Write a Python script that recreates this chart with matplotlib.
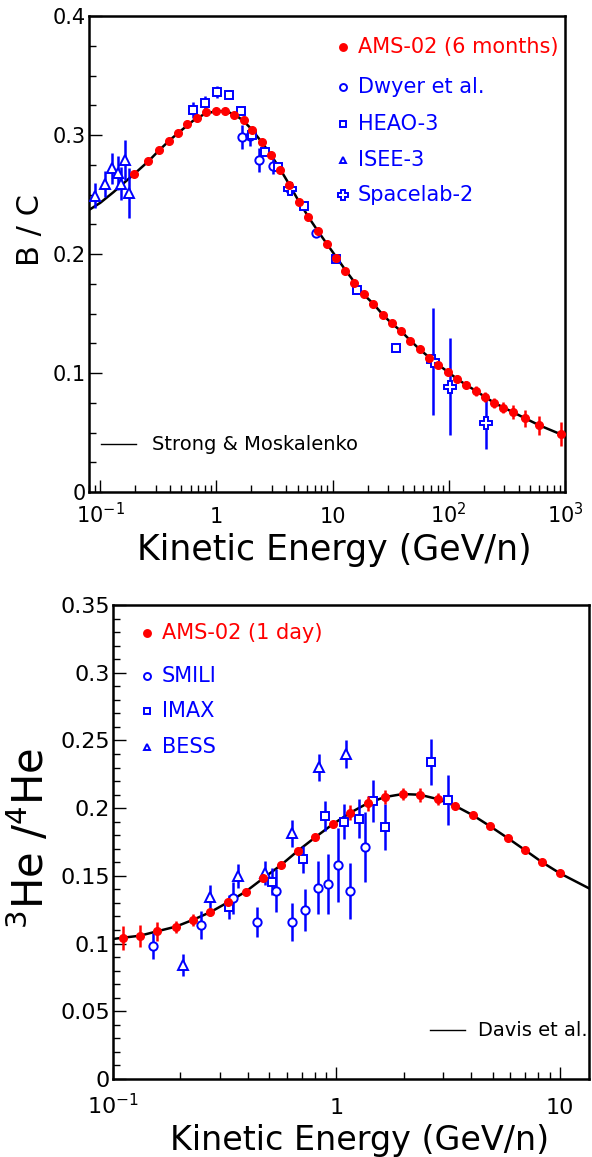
import numpy as np
import matplotlib
matplotlib.use("Agg")
from matplotlib import pyplot as plt
from matplotlib.ticker import FixedLocator, FixedFormatter, MultipleLocator, NullFormatter

plt.rcParams['font.family'] = ['DejaVu Sans']
plt.rcParams['mathtext.default'] = 'regular'

# ---------------- B/C ----------------
ams_bc_e = [0.196, 0.257, 0.321, 0.390, 0.470, 0.562, 0.679, 0.818, 0.986, 1.18, 1.43,
            1.71, 2.04, 2.46, 2.95, 3.55, 4.25, 5.11, 6.18, 7.45, 8.92, 10.7, 12.9,
            15.4, 18.6, 22.4, 27.1, 32.4, 39.0, 46.7, 56.3, 67.9, 81.3, 98.0, 118,
            141, 171, 204, 246, 295, 358, 452, 603, 929]
ams_bc = [0.267, 0.278, 0.287, 0.295, 0.302, 0.309, 0.314, 0.319, 0.320, 0.320, 0.317,
          0.313, 0.304, 0.294, 0.283, 0.271, 0.258, 0.244, 0.231, 0.219, 0.208, 0.197,
          0.186, 0.176, 0.166, 0.158, 0.149, 0.142, 0.135, 0.127, 0.120, 0.113, 0.107,
          0.101, 0.095, 0.090, 0.085, 0.080, 0.075, 0.071, 0.067, 0.062, 0.056, 0.049]
ams_bc_err = [0]*26 + [0.001, 0.001, 0.001, 0.002, 0.002, 0.002, 0.002, 0.003, 0.003,
                       0.003, 0.004, 0.004, 0.004, 0.005, 0.006, 0.007, 0.008, 0.010]

dwyer_e = [1.67, 1.94, 2.33, 3.09, 4.31, 7.26]
dwyer = [0.298, 0.299, 0.279, 0.274, 0.255, 0.218]
dwyer_err = [0.010, 0.008, 0.010, 0.007, 0.005, 0.004]

heao_e = [0.627, 0.80, 1.006, 1.27, 1.62, 2.04, 2.61, 3.37, 5.63, 10.6, 16.2, 34.8]
heao = [0.321, 0.327, 0.336, 0.334, 0.320, 0.300, 0.286, 0.273, 0.240, 0.196, 0.170, 0.121]
heao_err = [0.007, 0.006, 0.005, 0.004, 0.003, 0.003, 0.003, 0.003, 0.003, 0.003, 0.003, 0.003]

isee_e = [0.090, 0.110, 0.125, 0.141, 0.151, 0.164, 0.178]
isee = [0.249, 0.259, 0.272, 0.268, 0.259, 0.279, 0.251]
isee_err = [0.0105, 0.011, 0.013, 0.014, 0.014, 0.017, 0.021]

spacelab_e = [4.31, 73.6, 103, 207]
spacelab = [0.255, 0.110, 0.0885, 0.058]
spacelab_err = [0.004, 0.045, 0.041, 0.022]

sm_e = [0.08, 0.1, 0.13, 0.17, 0.2, 0.26, 0.32, 0.4, 0.5, 0.63, 0.8, 1.0, 1.2, 1.45,
        1.7, 2.0, 2.5, 3.0, 3.5, 4.2, 5.0, 6.2, 7.5, 9, 11, 13, 15.5, 18.5, 22.5, 27,
        32, 39, 47, 56, 68, 81, 98, 118, 141, 171, 204, 246, 295, 358, 452, 603, 1000]
sm = [0.237, 0.243, 0.252, 0.262, 0.268, 0.278, 0.287, 0.296, 0.304, 0.312, 0.318, 0.320,
      0.320, 0.317, 0.312, 0.305, 0.293, 0.282, 0.272, 0.259, 0.246, 0.231, 0.219, 0.208,
      0.196, 0.186, 0.176, 0.166, 0.158, 0.149, 0.142, 0.135, 0.127, 0.120, 0.113, 0.107,
      0.101, 0.095, 0.090, 0.085, 0.080, 0.075, 0.071, 0.067, 0.062, 0.056, 0.047]

# ---------------- 3He/4He ----------------
ams_he_e = [0.1105, 0.132, 0.158, 0.191, 0.227, 0.272, 0.327, 0.392, 0.470, 0.563, 0.671,
            0.804, 0.962, 1.153, 1.379, 1.648, 1.978, 2.364, 2.836, 3.389, 4.066, 4.875,
            5.83, 6.97, 8.34, 10.0]
ams_he = [0.1043, 0.1058, 0.1091, 0.1125, 0.1174, 0.1231, 0.1305, 0.1383, 0.1482, 0.1578,
          0.1684, 0.1785, 0.1881, 0.1966, 0.2036, 0.2082, 0.2104, 0.2099, 0.2067, 0.2018,
          0.1949, 0.1866, 0.1780, 0.1691, 0.1600, 0.1519]
ams_he_err = [0.009, 0.008, 0.007, 0.0045, 0.0043, 0.003, 0.002, 0.002, 0.002, 0.002, 0.002,
              0.002, 0.002, 0.0055, 0.0055, 0.0055, 0.0045, 0.005, 0.0045, 0, 0, 0, 0, 0, 0, 0]

smili_e = [0.151, 0.248, 0.344, 0.441, 0.536, 0.632, 0.722, 0.824, 0.918, 1.012, 1.148, 1.345]
smili = [0.0982, 0.1137, 0.1334, 0.116, 0.139, 0.1157, 0.1246, 0.1413, 0.144, 0.158, 0.1388, 0.1715]
smili_err = [0.0098, 0.010, 0.0117, 0.011, 0.016, 0.014, 0.0156, 0.0196, 0.022, 0.027, 0.0205, 0.026]

imax_e = [0.330, 0.516, 0.707, 0.888, 1.080, 1.265, 1.461, 1.648, 2.64, 3.155]
imax = [0.1272, 0.1458, 0.1622, 0.1942, 0.1901, 0.1920, 0.2053, 0.1858, 0.2341, 0.2060]
imax_err = [0.009, 0.0098, 0.010, 0.011, 0.0126, 0.0144, 0.0154, 0.017, 0.017, 0.0185]

bess_e = [0.206, 0.272, 0.362, 0.479, 0.632, 0.838, 1.106]
bess = [0.0842, 0.1346, 0.150, 0.152, 0.1814, 0.2302, 0.240]
bess_err = [0.008, 0.0083, 0.009, 0.009, 0.010, 0.0098, 0.010]

davis_e = [0.1, 0.1105, 0.132, 0.158, 0.191, 0.227, 0.272, 0.327, 0.392, 0.470, 0.563, 0.671,
           0.804, 0.962, 1.153, 1.379, 1.648, 1.978, 2.364, 2.836, 3.389, 4.066, 4.875,
           5.83, 6.97, 8.34, 10.0, 13.5]
davis = [0.1034, 0.1043, 0.1058, 0.1091, 0.1125, 0.1174, 0.1231, 0.1305, 0.1383, 0.1482,
         0.1578, 0.1684, 0.1785, 0.1881, 0.1966, 0.2036, 0.2082, 0.2104, 0.2099, 0.2067,
         0.2018, 0.1949, 0.1866, 0.1780, 0.1691, 0.1600, 0.1519, 0.1408]

W, H = 592, 1157
fig = plt.figure(figsize=(W/100, H/100), dpi=100)

def px_axes(l, t, r, b):
    return fig.add_axes([l/W, 1-b/H, (r-l)/W, (b-t)/H])

def style(ax, size):
    for s in ax.spines.values():
        s.set_linewidth(1.8)
    ax.tick_params(which='both', direction='in', top=False, right=False, labelsize=size, width=1.0)
    ax.tick_params(which='major', length=9)
    ax.tick_params(which='minor', length=5)

red = dict(fmt='o', color='red', ms=5.5, elinewidth=1.8, capsize=0, zorder=4)
blue = dict(color='blue', mfc='white', mec='blue', mew=1.4, elinewidth=1.8,
            capsize=0, ls='none', zorder=3)
msize = {'o': 6, 's': 6, '^': 7, 'P': 8}

# top panel
ax1 = px_axes(89, 16, 565, 492)
ax1.set_xscale('log')
ax1.plot(sm_e, sm, color='black', lw=1.8, zorder=2)
ax1.errorbar(ams_bc_e, ams_bc, yerr=ams_bc_err, **red)
ax1.errorbar(dwyer_e, dwyer, yerr=dwyer_err, marker='o', ms=msize['o'], **blue)
ax1.errorbar(heao_e, heao, yerr=heao_err, marker='s', ms=msize['s'], **blue)
ax1.errorbar(isee_e, isee, yerr=isee_err, marker='^', ms=msize['^'], **blue)
ax1.errorbar(spacelab_e, spacelab, yerr=spacelab_err, marker='P', ms=msize['P'], **blue)
ax1.set_xlim(0.08, 1000)
ax1.set_ylim(0, 0.4)
style(ax1, 15)
ax1.xaxis.set_major_locator(FixedLocator([0.1, 1, 10, 100, 1000]))
ax1.xaxis.set_major_formatter(FixedFormatter([r'$10^{-1}$', '1', '10', r'$10^{2}$', r'$10^{3}$']))
ax1.xaxis.set_minor_formatter(NullFormatter())
ax1.set_yticks([0, 0.1, 0.2, 0.3, 0.4])
ax1.set_yticklabels(['0', '0.1', '0.2', '0.3', '0.4'])
ax1.yaxis.set_minor_locator(MultipleLocator(0.025))
ax1.tick_params(axis='x', pad=22.5)
ax1.tick_params(axis='y', pad=2)
for t in ax1.get_xticklabels():
    t.set_va('baseline')

# legend, top panel
leg1 = [('AMS-02 (6 months)', 'red', 'o', 47), ('Dwyer et al.', 'blue', 'o', 87),
        ('HEAO-3', 'blue', 's', 124), ('ISEE-3', 'blue', '^', 160), ('Spacelab-2', 'blue', 'P', 195)]
for label, c, m, yp in leg1:
    fc = c if c == 'red' else 'white'
    fig.lines.append(plt.Line2D([343/W], [1-yp/H], marker=m, ms=5 if m != 'P' else 7,
                                mfc=fc, mec=c, mew=1.4, transform=fig.transFigure))
    fig.text(358/W, 1-yp/H, label, color=c, fontsize=15, va='center', ha='left')
fig.lines.append(plt.Line2D([101/W, 136/W], [1-444/H]*2, color='black', lw=1.0,
                            transform=fig.transFigure))
fig.text(152/W, 1-444/H, 'Strong & Moskalenko', fontsize=14, va='center', ha='left')
fig.text(30/W, 1-230/H, 'B / C', fontsize=22, rotation=90, va='center', ha='center')
fig.text(334/W, 1-560/H, 'Kinetic Energy (GeV/n)', fontsize=25, va='baseline', ha='center')

# bottom panel
ax2 = px_axes(113, 605, 589, 1079)
ax2.set_xscale('log')
ax2.plot(davis_e, davis, color='black', lw=1.8, zorder=2)
ax2.errorbar(ams_he_e, ams_he, yerr=ams_he_err, **red)
ax2.errorbar(smili_e, smili, yerr=smili_err, marker='o', ms=msize['o'], **blue)
ax2.errorbar(imax_e, imax, yerr=imax_err, marker='s', ms=msize['s'], **blue)
ax2.errorbar(bess_e, bess, yerr=bess_err, marker='^', ms=msize['^'], **blue)
ax2.set_xlim(0.1, 13.5)
ax2.set_ylim(0, 0.35)
style(ax2, 16)
ax2.xaxis.set_major_locator(FixedLocator([0.1, 1, 10]))
ax2.xaxis.set_major_formatter(FixedFormatter([r'$10^{-1}$', '1', '10']))
ax2.xaxis.set_minor_formatter(NullFormatter())
ax2.set_yticks([0, 0.05, 0.1, 0.15, 0.2, 0.25, 0.3, 0.35])
ax2.set_yticklabels(['0', '0.05', '0.1', '0.15', '0.2', '0.25', '0.3', '0.35'])
ax2.yaxis.set_minor_locator(MultipleLocator(0.01))
ax2.tick_params(axis='x', pad=25)
ax2.tick_params(axis='y', pad=2)
for t in ax2.get_xticklabels():
    t.set_va('baseline')

leg2 = [('AMS-02 (1 day)', 'red', 'o', 633), ('SMILI', 'blue', 'o', 676),
        ('IMAX', 'blue', 's', 711), ('BESS', 'blue', '^', 747)]
for label, c, m, yp in leg2:
    fc = c if c == 'red' else 'white'
    fig.lines.append(plt.Line2D([147/W], [1-yp/H], marker=m, ms=5,
                                mfc=fc, mec=c, mew=1.4, transform=fig.transFigure))
    fig.text(162/W, 1-yp/H, label, color=c, fontsize=15, va='center', ha='left')
fig.lines.append(plt.Line2D([430/W, 465/W], [1-1030/H]*2, color='black', lw=1.0,
                            transform=fig.transFigure))
fig.text(478/W, 1-1030/H, 'Davis et al.', fontsize=14, va='center', ha='left')
fig.text(30/W, 1-838/H, r'$^{3}$He /$^{4}$He', fontsize=30, rotation=90, va='center', ha='center')
fig.text(360/W, 1-1150/H, 'Kinetic Energy (GeV/n)', fontsize=24, va='baseline', ha='center')

plt.savefig('out.png', dpi=100)
